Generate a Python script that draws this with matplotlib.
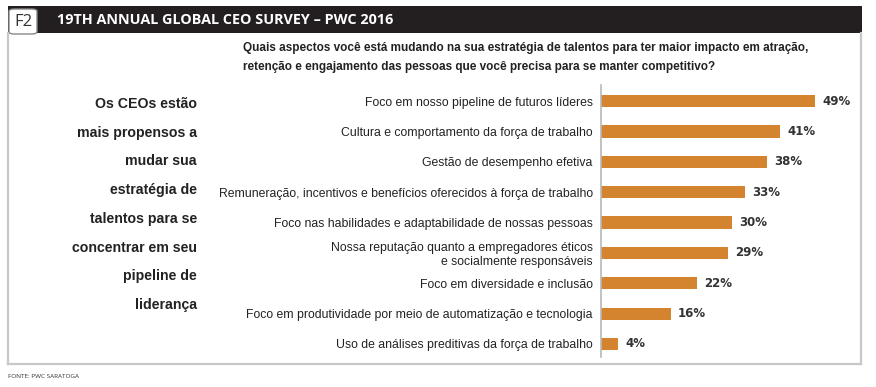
import matplotlib
matplotlib.use("Agg")
import matplotlib.pyplot as plt
from matplotlib.patches import Rectangle, FancyBboxPatch
from matplotlib.lines import Line2D
from matplotlib import font_manager

names = {f.name for f in font_manager.fontManager.ttflist}
HAS_NARROW = 'Liberation Sans Narrow' in names
NARROW = 'Liberation Sans Narrow' if HAS_NARROW else 'Liberation Sans'

categories = [
    "Foco em nosso pipeline de futuros líderes",
    "Cultura e comportamento da força de trabalho",
    "Gestão de desempenho efetiva",
    "Remuneração, incentivos e benefícios oferecidos à força de trabalho",
    "Foco nas habilidades e adaptabilidade de nossas pessoas",
    "Nossa reputação quanto a empregadores éticos\ne socialmente responsáveis",
    "Foco em diversidade e inclusão",
    "Foco em produtividade por meio de automatização e tecnologia",
    "Uso de análises preditivas da força de trabalho",
]
values = [49, 41, 38, 33, 30, 29, 22, 16, 4]
value_labels = ["49%", "41%", "38%", "33%", "30%", "29%", "22%", "16%", "4%"]

header_title = "19TH ANNUAL GLOBAL CEO SURVEY – PWC 2016"
question = ("Quais aspectos você está mudando na sua estratégia de talentos para ter maior impacto em atração,\n"
            "retenção e engajamento das pessoas que você precisa para se manter competitivo?")
side_lines = ["Os CEOs estão", "mais propensos a", "mudar sua", "estratégia de",
              "talentos para se", "concentrar em seu", "pipeline de", "liderança"]
source = "FONTE: PWC SARATOGA"

W, H = 876, 387
fig = plt.figure(figsize=(W / 100, H / 100), dpi=100)
fig.patch.set_facecolor("white")

def fx(px):
    return px / W

def fy(py):
    return 1 - py / H

q_size = 10.3 if HAS_NARROW else 8.45
side_size = 13.2 if HAS_NARROW else 10.15
cat_size = 10.8 if HAS_NARROW else 8.83

# frame
gray = "#c8c8c8"
fig.add_artist(Line2D([fx(8), fx(8)], [fy(33), fy(364)], color=gray, lw=1.6))
fig.add_artist(Line2D([fx(8), fx(861)], [fy(364), fy(364)], color=gray, lw=1.6))
fig.add_artist(Line2D([fx(861), fx(861)], [fy(33), fy(364)], color=gray, lw=1.6))

# header
fig.add_artist(Rectangle((fx(8), fy(33)), fx(862) - fx(8), fy(6) - fy(33),
                         facecolor="#231f20", edgecolor="none"))
fig.add_artist(FancyBboxPatch((fx(9), fy(34)), fx(37) - fx(9), fy(9) - fy(34),
                              boxstyle="round,pad=0,rounding_size=0.006",
                              facecolor="white", edgecolor="#888888", lw=1.0))
fig.text(fx(23), fy(21.5), "F2", ha="center", va="center", fontsize=12,
         family="Open Sans", color="#333333")
fig.text(fx(57), fy(19.5), header_title, ha="left", va="center", fontsize=10.4,
         family="Open Sans", weight="bold", color="white")

# question
fig.text(fx(243), fy(57.5), question, ha="left", va="center", fontsize=q_size,
         family=NARROW, weight="bold", color="#222222", linespacing=1.75)

# side text
for i, line in enumerate(side_lines):
    fig.text(fx(197), fy(104 + i * 28.7), line, ha="right", va="center",
             fontsize=side_size, family=NARROW, weight="bold", color="#222222")

# source
fig.text(fx(8), fy(376), source, ha="left", va="center", fontsize=4.6,
         family="Open Sans", color="#333333")

# bars
ax = fig.add_axes([fx(601), fy(357), fx(860) - fx(601), fy(85) - fy(357)])
ypos = list(range(len(categories)))
ax.barh(ypos, values, height=0.4, color="#d4842f", edgecolor="none")
ax.set_xlim(0, (860 - 601) / 4.37)
ax.set_ylim(8.43, -0.53)
for s in ["top", "right", "bottom"]:
    ax.spines[s].set_visible(False)
ax.spines["left"].set_color("#b8b8b8")
ax.spines["left"].set_linewidth(1.2)
ax.set_xticks([])
ax.set_yticks(ypos)
ax.set_yticklabels(categories, family=NARROW, fontsize=cat_size,
                   color="#222222", multialignment="right", linespacing=1.2)
ax.tick_params(axis="y", length=0, pad=6)
ax.set_facecolor("none")
for y, v, lab in zip(ypos, values, value_labels):
    ax.text(v + 1.6, y, lab, ha="left", va="center", fontsize=8.5,
            family="DejaVu Sans", weight="bold", color="#333333")

fig.savefig("out.png", dpi=100)
